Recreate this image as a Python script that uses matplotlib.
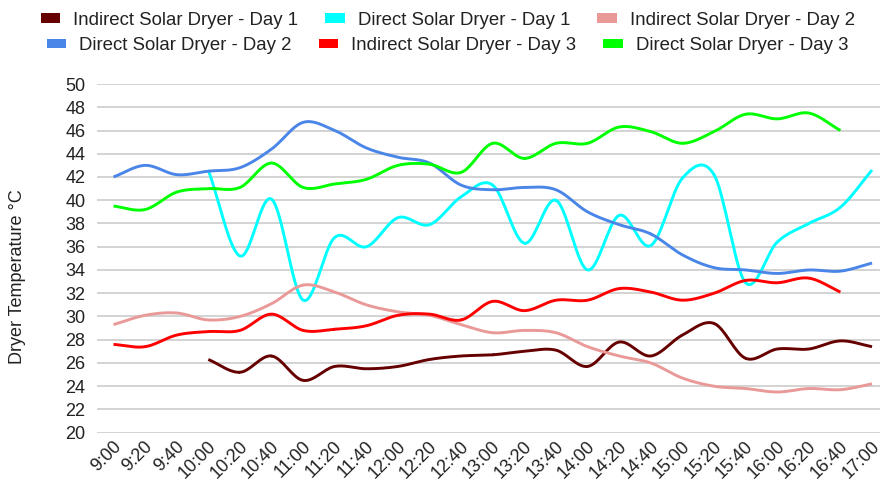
import numpy as np
import matplotlib
matplotlib.use("Agg")
import matplotlib.pyplot as plt
from matplotlib.patches import Patch
import matplotlib.transforms as mtransforms

plt.rcParams['font.family'] = ['Liberation Sans', 'DejaVu Sans']

times = ["9:00", "9:20", "9:40", "10:00", "10:20", "10:40", "11:00", "11:20",
         "11:40", "12:00", "12:20", "12:40", "13:00", "13:20", "13:40", "14:00",
         "14:20", "14:40", "15:00", "15:20", "15:40", "16:00", "16:20", "16:40",
         "17:00"]

nan = np.nan
indirect_day1 = [nan, nan, nan, 26.3, 25.2, 26.6, 24.5, 25.7, 25.5, 25.7, 26.3,
                 26.6, 26.7, 27.0, 27.1, 25.7, 27.8, 26.6, 28.4, 29.4, 26.4,
                 27.2, 27.2, 27.9, 27.4]
direct_day1 = [nan, nan, nan, 42.6, 35.2, 40.1, 31.4, 36.8, 36.0, 38.5, 37.9,
               40.3, 41.3, 36.3, 40.0, 34.0, 38.7, 36.1, 41.9, 42.2, 32.9,
               36.4, 38.0, 39.4, 42.6]
indirect_day2 = [29.3, 30.1, 30.3, 29.7, 30.0, 31.1, 32.7, 32.1, 31.0, 30.4,
                 30.1, 29.3, 28.6, 28.8, 28.6, 27.4, 26.6, 26.0, 24.7, 24.0,
                 23.8, 23.5, 23.8, 23.7, 24.2]
direct_day2 = [42.0, 43.0, 42.2, 42.5, 42.8, 44.4, 46.7, 46.0, 44.5, 43.7,
               43.2, 41.3, 40.9, 41.1, 40.9, 39.0, 37.9, 37.1, 35.3, 34.2,
               34.0, 33.7, 34.0, 33.9, 34.6]
indirect_day3 = [27.6, 27.4, 28.4, 28.7, 28.8, 30.2, 28.8, 28.9, 29.2, 30.1,
                 30.2, 29.7, 31.3, 30.5, 31.4, 31.4, 32.4, 32.1, 31.4, 32.0,
                 33.1, 32.9, 33.3, 32.1, nan]
direct_day3 = [39.5, 39.2, 40.7, 41.0, 41.1, 43.2, 41.1, 41.4, 41.8, 43.0,
               43.1, 42.4, 44.9, 43.6, 44.9, 44.9, 46.3, 45.9, 44.9, 45.9,
               47.4, 47.0, 47.5, 46.0, nan]

series = [
    ("Indirect Solar Dryer - Day 1", indirect_day1, "#660000"),
    ("Direct Solar Dryer - Day 1", direct_day1, "#00ffff"),
    ("Indirect Solar Dryer - Day 2", indirect_day2, "#ea9999"),
    ("Direct Solar Dryer - Day 2", direct_day2, "#4a86e8"),
    ("Indirect Solar Dryer - Day 3", indirect_day3, "#ff0000"),
    ("Direct Solar Dryer - Day 3", direct_day3, "#00ff00"),
]


def _smooth(x, y, n=20):
    # Catmull-Rom through the points, like a spreadsheet "smooth" line
    x = np.asarray(x, float)
    y = np.asarray(y, float)
    px = np.concatenate([[2 * x[0] - x[1]], x, [2 * x[-1] - x[-2]]])
    py = np.concatenate([[2 * y[0] - y[1]], y, [2 * y[-1] - y[-2]]])
    t = np.linspace(0, 1, n)[:, None]
    xs, ys = [], []
    for i in range(1, len(px) - 2):
        for p, out in ((px, xs), (py, ys)):
            p0, p1, p2, p3 = p[i - 1], p[i], p[i + 1], p[i + 2]
            seg = 0.5 * (2 * p1 + (-p0 + p2) * t
                         + (2 * p0 - 5 * p1 + 4 * p2 - p3) * t ** 2
                         + (-p0 + 3 * p1 - 3 * p2 + p3) * t ** 3)
            out.append(seg.ravel())
    return np.concatenate(xs), np.concatenate(ys)


fig = plt.figure(figsize=(8.81, 4.82), dpi=100)
ax = fig.add_axes([0.1098, 0.1023, 0.889, 0.7234])

xpos = np.arange(len(times))
for label, vals, color in series:
    vals = np.asarray(vals, float)
    ok = ~np.isnan(vals)
    sx, sy = _smooth(xpos[ok], vals[ok])
    ax.plot(sx, sy, color=color, lw=2.1, solid_capstyle='butt')

ax.set_xlim(-0.53, 24.25)
ax.set_ylim(20, 50)
ax.set_yticks(np.arange(20, 51, 2))
ax.yaxis.grid(True, color='#cccccc', lw=1.2)
ax.set_axisbelow(True)
for s in ax.spines.values():
    s.set_visible(False)
ax.tick_params(length=0, labelsize=13, colors='#222222', pad=8)
ax.set_xticks(xpos)
ax.set_xticklabels(times, rotation=45, ha='right', va='center',
                   rotation_mode='anchor')
offset = mtransforms.ScaledTranslation(0.05, 0.0, fig.dpi_scale_trans)
for lbl in ax.get_xticklabels():
    lbl.set_transform(lbl.get_transform() + offset)

fig.text(18 / 881, 1 - 277 / 482, "Dryer Temperature °C", rotation=90,
         ha='center', va='center', fontsize=13, color='#222222')

handles = [Patch(facecolor=c, edgecolor='none') for _, _, c in series]
names = [s[0] for s in series]
for row, ypos in ((0, 0.958), (1, 0.905)):
    leg = fig.legend(handles[row * 3:row * 3 + 3], names[row * 3:row * 3 + 3],
                     loc='center', bbox_to_anchor=(0.508, ypos), ncol=3,
                     frameon=False, fontsize=13.4, handlelength=1.05,
                     handleheight=0.4, handletextpad=0.7, columnspacing=1.45,
                     borderpad=0, borderaxespad=0)
    for txt in leg.get_texts():
        txt.set_color('#222222')

fig.savefig("out.png", dpi=100)
